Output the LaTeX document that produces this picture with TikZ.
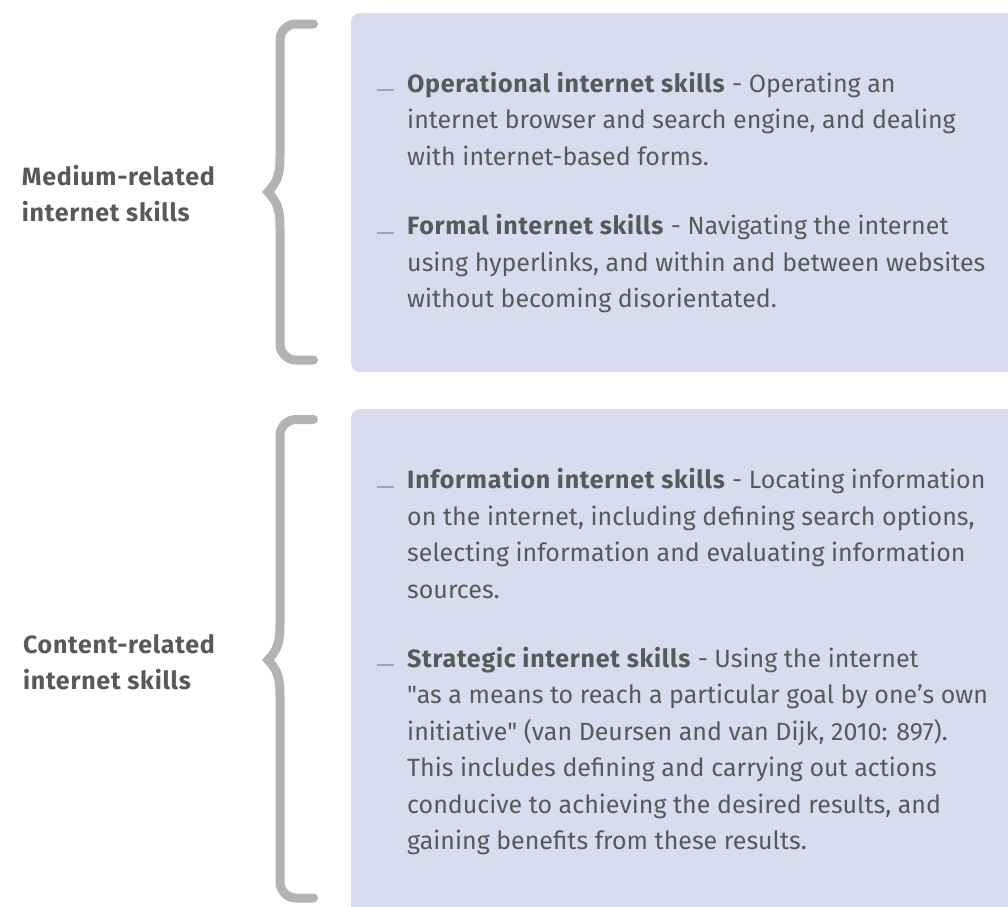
\documentclass[tikz,border=0pt]{standalone}
\usepackage{fontspec}
\setmainfont{Fira Sans}[Ligatures=TeXOff,BoldFeatures={LetterSpace=3.0}]
\definecolor{textgray}{HTML}{58595B}
\definecolor{bracegray}{HTML}{B2B3B5}
\definecolor{panelblue}{HTML}{D9DCEE}
\definecolor{tickblue}{HTML}{8FA6D6}
\newcommand\bodyfont{\fontsize{25bp}{36.5bp}\selectfont}
\begin{document}
\begin{tikzpicture}[x=1bp,y=-1bp,
  panel/.style={fill=panelblue,rounded corners=9bp},
  bracket/.style={draw=bracegray,line width=9bp,line cap=round,line join=miter},
  bullettick/.style={draw=tickblue,line width=2bp},
  body/.style={anchor=north west,inner sep=0pt,align=left,text=textgray,font=\bodyfont},
  label/.style={anchor=north east,inner sep=0pt,align=left,text=textgray,font=\bodyfont\bfseries},
]
\useasboundingbox (0,0) rectangle (1008,907);

% shaded panels, running off the right and bottom edges
\begin{scope}
  \clip (0,0) rectangle (1008,907);
  \path[panel] (351,13) rectangle (1040,372);
  \path[panel] (351,409) rectangle (1040,940);
\end{scope}

% curly brackets
\draw[bracket] (313.5,24) -- (296,24) .. controls (287.2,24) and (280,31.2) .. (280,40)
  -- (280,157) .. controls (280,177) and (276,183) .. (268,192)
  .. controls (276,201) and (280,207) .. (280,227)
  -- (280,344) .. controls (280,352.8) and (287.2,360) .. (296,360) -- (313.5,360);
\draw[bracket] (313.5,419.5) -- (296,419.5) .. controls (287.2,419.5) and (280,426.7) .. (280,435.5)
  -- (280,625) .. controls (280,645) and (276,651) .. (268,660)
  .. controls (276,669) and (280,675) .. (280,695)
  -- (280,882) .. controls (280,890.8) and (287.2,898) .. (296,898) -- (313.5,898);

% group labels
\node[label] (medium) at (215,159.5) {\strut Medium-related\\internet skills};
\node[label] (content) at (215,627.5) {\strut Content-related\\internet skills};

% skill descriptions
\node[body] (operational) at (407,66.5) {\strut\textbf{Operational internet skills} - Operating an\\
  internet browser and search engine, and dealing\\
  with internet-based forms.};
\node[body] (formal) at (407,209) {\strut\textbf{Formal internet skills} - Navigating the internet\\
  using hyperlinks, and within and between websites\\
  without becoming disorientated.};
\node[body] (information) at (407,463) {\strut\textbf{Information internet skills} - Locating information\\
  on the internet, including defining search options,\\
  selecting information and evaluating information\\
  sources.};
\node[body] (strategic) at (407,641.5) {\strut\textbf{Strategic internet skills} - Using the internet\\
  "as a means to reach a particular goal by one’s own\\
  initiative" (van Deursen and van Dijk, 2010: 897).\\
  This includes defining and carrying out actions\\
  conducive to achieving the desired results, and\\
  gaining benefits from these results.};

% bullet ticks
\foreach \y in {90,232.5,486.5,665}
  \draw[bullettick] (377,\y) -- (394,\y);
\end{tikzpicture}
\end{document}
